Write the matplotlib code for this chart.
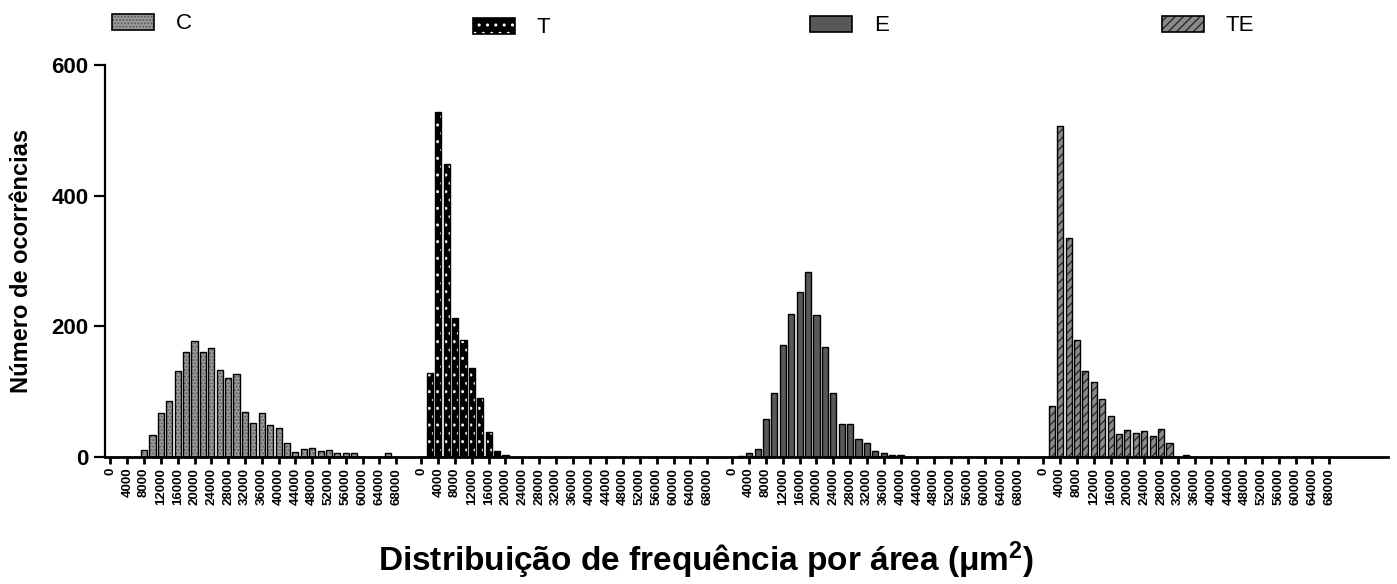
import numpy as np
import matplotlib
matplotlib.use("Agg")
import matplotlib.pyplot as plt
from matplotlib.patches import Patch

plt.rcParams['font.family'] = ['Liberation Sans', 'DejaVu Sans']
plt.rcParams['mathtext.fontset'] = 'custom'
plt.rcParams['mathtext.rm'] = 'Liberation Sans:bold'
plt.rcParams['mathtext.it'] = 'Liberation Sans:bold'
plt.rcParams['mathtext.bf'] = 'Liberation Sans:bold'
plt.rcParams['hatch.linewidth'] = 1.0

# ---- data ----
groups = ["C", "T", "E", "TE"]
bin_starts = list(range(0, 70000, 2000))           # 0 .. 68000
tick_values = list(range(0, 72000, 4000))          # 0 .. 68000
tick_labels = [str(v) for v in tick_values]

counts_C = [0, 0, 0, 0, 10, 33, 67, 85, 131, 161, 177, 161, 167, 133, 121, 127,
            69, 51, 67, 48, 44, 21, 7, 12, 14, 8, 10, 6, 6, 6, 0, 0, 0, 6, 0]
counts_T = [0, 128, 528, 449, 212, 179, 136, 90, 38, 8, 3, 0, 0, 0, 0, 0,
            0, 0, 0, 0, 0, 0, 0, 0, 0, 0, 0, 0, 0, 0, 0, 0, 0, 0, 0]
counts_E = [0, 1, 5, 12, 58, 97, 171, 219, 253, 283, 217, 168, 97, 50, 50, 27,
            21, 9, 6, 3, 3, 0, 0, 0, 0, 0, 0, 0, 0, 0, 0, 0, 0, 0, 0]
counts_TE = [0, 77, 507, 335, 178, 131, 115, 89, 62, 35, 41, 37, 39, 32, 43, 21,
             0, 2, 0, 0, 0, 0, 0, 0, 0, 0, 0, 0, 0, 0, 0, 0, 0, 0, 0]

all_counts = [counts_C, counts_T, counts_E, counts_TE]

# ---- styles ----
group_offset = 74000
bar_w = 1450
styles = [
    dict(face='#9c9c9c', hatch='.....', hcolor='#5a5a5a'),
    dict(face='black', hatch='..', hcolor='white'),
    dict(face='#585858', hatch=None, hcolor=None),
    dict(face='#8a8a8a', hatch='////', hcolor='#2a2a2a'),
]

fig = plt.figure(figsize=(13.97, 5.84), dpi=100)
ax = fig.add_axes([105/1397, 1 - 456.7/584, (1388-105)/1397, (456.7-65)/584])

xt, xl = [], []
for g, (counts, st) in enumerate(zip(all_counts, styles)):
    xs = np.array(bin_starts) + g * group_offset
    if st['hatch']:
        ax.bar(xs, counts, width=bar_w, color=st['face'], edgecolor=st['hcolor'],
               hatch=st['hatch'], linewidth=0, zorder=2)
        ax.bar(xs, counts, width=bar_w, facecolor='none', edgecolor='black',
               linewidth=1.0, zorder=3)
    else:
        ax.bar(xs, counts, width=bar_w, color=st['face'], edgecolor='black',
               linewidth=1.0, zorder=2)
    xt += [v + g * group_offset for v in tick_values]
    xl += tick_labels

ax.set_xlim(-1300, 152 * 2000)
ax.set_ylim(0, 600)
ax.set_xticks(xt)
ax.set_xticklabels(xl, rotation=90, fontsize=9.5, fontweight='bold')
ax.set_yticks([0, 200, 400, 600])
ax.set_yticklabels(['0', '200', '400', '600'], fontsize=16, fontweight='bold')
ax.tick_params(axis='x', direction='out', length=5, width=2, pad=3)
ax.tick_params(axis='y', direction='out', length=8, width=1.6, pad=4)
for s in ['top', 'right']:
    ax.spines[s].set_visible(False)
ax.spines['left'].set_linewidth(1.6)
ax.spines['bottom'].set_linewidth(2.0)

ax.set_ylabel('Número de ocorrências', fontsize=17, fontweight='bold')
ax.yaxis.set_label_coords(-0.056, 0.5)
fig.text(706/1397, 1 - 560/584, 'Distribuição de frequência por área (μm$^{2}$)',
         ha='center', va='center', fontsize=24, fontweight='bold')

# legend entries
leg_x = [108, 469, 806, 1158]
leg_y = [9, 13, 11, 11]
for g, (name, st) in enumerate(zip(groups, styles)):
    if st['hatch']:
        h = Patch(facecolor=st['face'], edgecolor=st['hcolor'], hatch=st['hatch'], linewidth=0)
        h2 = Patch(facecolor='none', edgecolor='black', linewidth=1.2)
        handle = (h, h2)
    else:
        handle = Patch(facecolor=st['face'], edgecolor='black', linewidth=1.2)
    fig.legend([handle], [name], loc='upper left',
               bbox_to_anchor=(leg_x[g]/1397, 1 - leg_y[g]/584),
               frameon=False, fontsize=16, handlelength=1.85, handleheight=0.75,
               handletextpad=1.0, borderpad=0.2, borderaxespad=0)

fig.savefig('out.png', dpi=100)
